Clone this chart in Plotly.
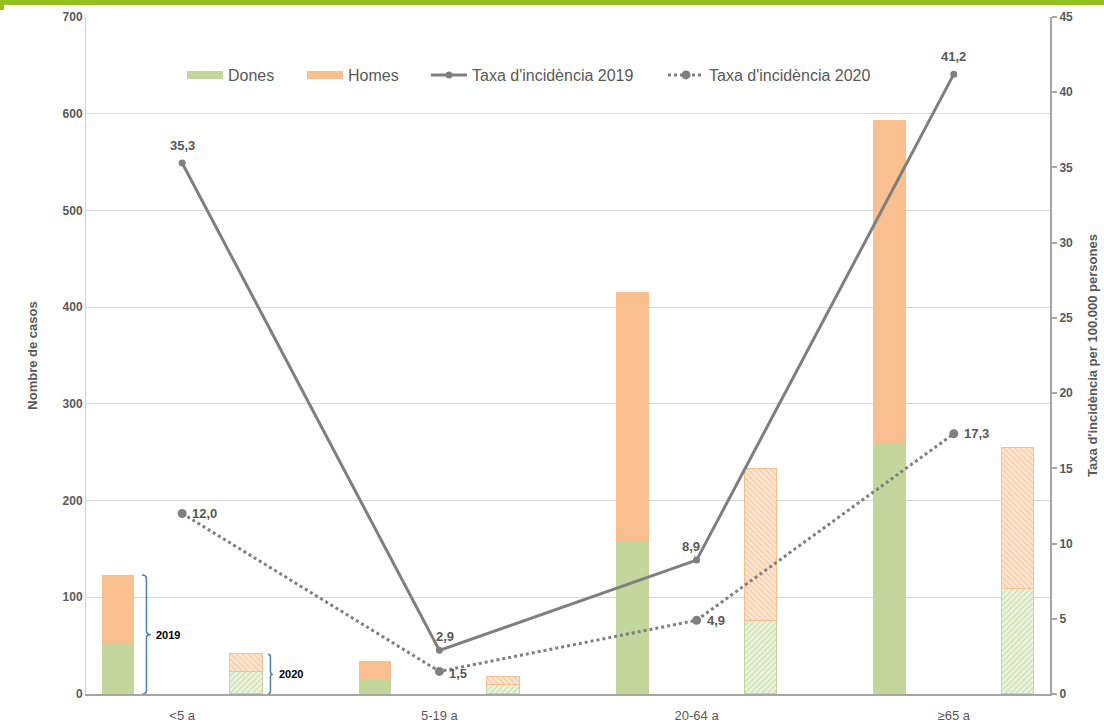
import plotly.graph_objects as go

categories = ["<5 a", "5-19 a", "20-64 a", "≥65 a"]
dones_2019 = [52, 15, 158, 260]
homes_2019 = [71, 19, 258, 334]
dones_2020 = [23, 9, 76, 109]
homes_2020 = [18, 9, 157, 145]
taxa_2019 = [35.3, 2.9, 8.9, 41.2]
taxa_2020 = [12.0, 1.5, 4.9, 17.3]

GREEN = "#c3d69b"
ORANGE = "#f9bf8f"
GREY = "#7f7f7f"
TXT = "#595959"
FONT = "Liberation Sans, Arial, sans-serif"

xc = list(range(len(categories)))
x19 = [i - 0.25 for i in xc]
x20 = [i + 0.25 for i in xc]
bw = 0.127

fig = go.Figure()
fig.add_trace(go.Bar(x=x19, y=dones_2019, width=bw, name="Dones", showlegend=False,
                     marker=dict(color=GREEN, line=dict(width=0))))
fig.add_trace(go.Bar(x=x19, y=homes_2019, width=bw, name="Homes", showlegend=False,
                     marker=dict(color=ORANGE, line=dict(width=0))))
fig.add_trace(go.Bar(x=x20, y=dones_2020, width=bw, name="Dones 2020", showlegend=False,
                     marker=dict(color="#eef4e2", line=dict(color=GREEN, width=1),
                                 pattern=dict(shape="/", fgcolor="#b5cf85", size=4, solidity=0.4))))
fig.add_trace(go.Bar(x=x20, y=homes_2020, width=bw, name="Homes 2020", showlegend=False,
                     marker=dict(color="#fde9d8", line=dict(color=ORANGE, width=1),
                                 pattern=dict(shape="\\", fgcolor="#f7ad70", size=4, solidity=0.4))))
fig.add_trace(go.Scatter(x=xc, y=taxa_2019, yaxis="y2", mode="lines+markers",
                         name="Taxa d'incidència 2019", legend="legend3",
                         line=dict(color=GREY, width=3),
                         marker=dict(color=GREY, size=7)))
fig.add_trace(go.Scatter(x=xc, y=taxa_2020, yaxis="y2", mode="lines+markers",
                         name="Taxa d'incidència 2020", legend="legend4",
                         line=dict(color=GREY, width=3, dash="dot"),
                         marker=dict(color=GREY, size=9)))
fig.add_trace(go.Scatter(x=[None], y=[None], mode="lines", name="Dones", legend="legend",
                         line=dict(color=GREEN, width=8)))
fig.add_trace(go.Scatter(x=[None], y=[None], mode="lines", name="Homes", legend="legend2",
                         line=dict(color=ORANGE, width=8)))

annots = []
lab = lambda v: f"{v:.1f}".replace(".", ",")
offs19 = [(0, 17), (6, 14), None, (0, 18)]
for i, v in enumerate(taxa_2019):
    if offs19[i] is None:
        annots.append(dict(x=xc[i], y=v, yref="y2", text=lab(v), showarrow=True,
                           arrowhead=0, arrowwidth=1, arrowcolor="#a6a6a6",
                           ax=-6, ay=-14, standoff=3,
                           font=dict(family=FONT, size=13, color=TXT, weight="bold")))
    else:
        annots.append(dict(x=xc[i], y=v, yref="y2", text=lab(v), showarrow=False,
                           xshift=offs19[i][0], yshift=offs19[i][1],
                           font=dict(family=FONT, size=13, color=TXT, weight="bold")))
for i, v in enumerate(taxa_2020):
    annots.append(dict(x=xc[i], y=v, yref="y2", text=lab(v), showarrow=False,
                       xanchor="left", xshift=8, yshift=-2 if i == 1 else 0,
                       font=dict(family=FONT, size=13, color=TXT, weight="bold")))

shapes = []
def brace(x0, x1, ytop, d):
    xm = (x0 + x1) / 2
    ymid = ytop / 2
    return (f"M {x0},{ytop} Q {xm},{ytop} {xm},{ytop-d} L {xm},{ymid+d} "
            f"Q {xm},{ymid} {x1},{ymid} Q {xm},{ymid} {xm},{ymid-d} "
            f"L {xm},{d} Q {xm},0 {x0},0")
top19 = dones_2019[0] + homes_2019[0]
top20 = dones_2020[0] + homes_2020[0]
shapes.append(dict(type="path", xref="x", yref="y", path=brace(-0.156, -0.122, top19, 4),
                   line=dict(color="#4a7ebb", width=1.5)))
shapes.append(dict(type="path", xref="x", yref="y", path=brace(0.334, 0.352, top20, 3),
                   line=dict(color="#4a7ebb", width=1.5)))
annots.append(dict(x=-0.11, y=top19 / 2, text="2019", showarrow=False, xanchor="left",
                   font=dict(family=FONT, size=11, color="#000000", weight="bold")))
annots.append(dict(x=0.37, y=top20 / 2, text="2020", showarrow=False, xanchor="left",
                   font=dict(family=FONT, size=11, color="#000000", weight="bold")))

shapes.append(dict(type="rect", xref="paper", yref="paper", x0=-0.1, x1=1.06,
                   y0=1 + 12 / 677, y1=1 + 17 / 677, fillcolor="#95c11f", line=dict(width=0)))
shapes.append(dict(type="rect", xref="paper", yref="paper", x0=-0.1, x1=-86 / 964 + 4 / 964,
                   y0=1 + 7 / 677, y1=1 + 17 / 677, fillcolor="#95c11f", line=dict(width=0)))

leg_common = dict(orientation="h", y=(694 - 75) / 677, xanchor="left", yanchor="middle",
                  font=dict(family=FONT, size=16, color=TXT), bgcolor="rgba(0,0,0,0)",
                  itemwidth=36)
def lx(px):
    return (px - 86) / 964

fig.update_layout(
    width=1104, height=726,
    margin=dict(l=86, r=54, t=17, b=32),
    paper_bgcolor="white", plot_bgcolor="white",
    barmode="stack", bargap=0,
    font=dict(family=FONT, color=TXT),
    showlegend=True,
    legend=dict(x=lx(182), **leg_common),
    legend2=dict(x=lx(302), **leg_common),
    legend3=dict(x=lx(426), **leg_common),
    legend4=dict(x=lx(663), **leg_common),
    xaxis=dict(range=[-0.374, 3.374], tickvals=xc, ticktext=categories,
               showgrid=False, zeroline=False, showline=True, linecolor="#a6a6a6",
               linewidth=2, ticks="", ticklabelstandoff=8, automargin=False,
               tickfont=dict(family=FONT, size=13, color=TXT)),
    yaxis=dict(range=[0, 700], dtick=100, showgrid=True, gridcolor="#d9d9d9", gridwidth=1,
               zeroline=False, showline=True, linecolor="#d0d0d0", linewidth=1, ticks="",
               automargin=False,
               tickfont=dict(family=FONT, size=12, color=TXT, weight="bold"),
               title=dict(text="Nombre de casos", standoff=22,
                          font=dict(family=FONT, size=13, color=TXT, weight="bold"))),
    yaxis2=dict(range=[0, 45], dtick=5, overlaying="y", side="right", showgrid=False,
                zeroline=False, showline=True, linecolor="#a6a6a6", linewidth=2,
                ticks="outside", ticklen=5, tickcolor="#a6a6a6", tickwidth=2,
                automargin=False,
                tickfont=dict(family=FONT, size=12, color=TXT, weight="bold"),
                title=dict(text="Taxa d'incidència per 100.000 persones", standoff=16,
                           font=dict(family=FONT, size=13, color=TXT, weight="bold"))),
    annotations=annots, shapes=shapes,
)

fig.write_html("out.html")
